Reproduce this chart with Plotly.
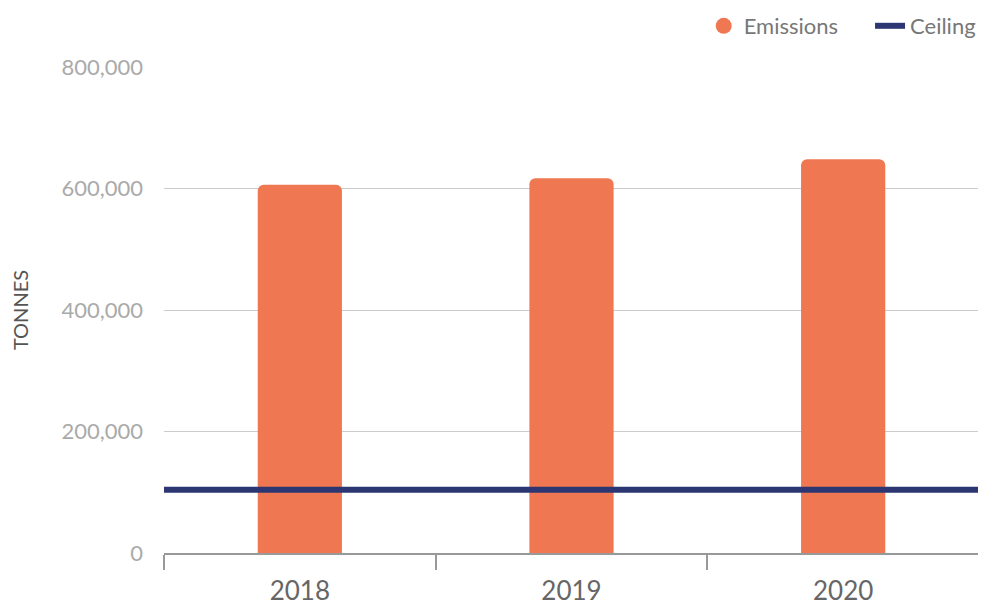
import plotly.graph_objects as go

years = ["2018", "2019", "2020"]
emissions = [606000, 617000, 648000]
ceiling = 104000
y_ticks = [0, 200000, 400000, 600000, 800000]

fig = go.Figure()

fig.add_trace(go.Bar(
    x=years, y=emissions, name="Emissions", showlegend=False,
    marker=dict(color="#ef7852", cornerradius=6, line=dict(width=0)),
    width=0.31, hoverinfo="x+y",
))
# legend marker for emissions (circle)
fig.add_trace(go.Scatter(
    x=[None], y=[None], mode="markers", name="Emissions", legend="legend",
    marker=dict(color="#ef7852", size=19, symbol="circle"),
))
fig.add_trace(go.Scatter(
    x=[0, 1], y=[ceiling, ceiling], mode="lines", name="Ceiling", legend="legend2",
    xaxis="x2", line=dict(color="#2b3672", width=6),
))

leg_y = 1.0 + 41 / 486
fig.update_layout(
    width=978, height=597,
    margin=dict(l=156, r=7, t=59, b=52, autoexpand=False),
    paper_bgcolor="white", plot_bgcolor="white",
    font=dict(family="Lato", color="#777"),
    legend=dict(orientation="h", x=0.834, xanchor="right", y=leg_y, yanchor="middle",
                font=dict(size=22, color="#777"), itemwidth=30, bgcolor="rgba(0,0,0,0)"),
    legend2=dict(orientation="h", x=1.0025, xanchor="right", y=leg_y, yanchor="middle",
                 font=dict(size=22, color="#777"), itemwidth=30, bgcolor="rgba(0,0,0,0)"),
    xaxis=dict(type="category", tickson="boundaries", ticks="outside", ticklen=15,
               tickcolor="#999", tickwidth=1.5, showline=True, linecolor="#999",
               linewidth=1.5, showgrid=False, ticklabelstandoff=14,
               tickfont=dict(size=26, color="#666", family="Lato")),
    xaxis2=dict(overlaying="x", range=[0, 1], visible=False, fixedrange=True),
    yaxis=dict(range=[0, 800000], tickvals=y_ticks, tickformat=",",
               showgrid=True, gridcolor="#cccccc", gridwidth=1, zeroline=False,
               tickfont=dict(size=22, color="#aaa", family="Lato"),
               ticklabelstandoff=20,
               title=dict(text="TONNES", font=dict(size=20, color="#555", family="Lato"),
                          standoff=27)),
)

fig.write_html("out.html")
